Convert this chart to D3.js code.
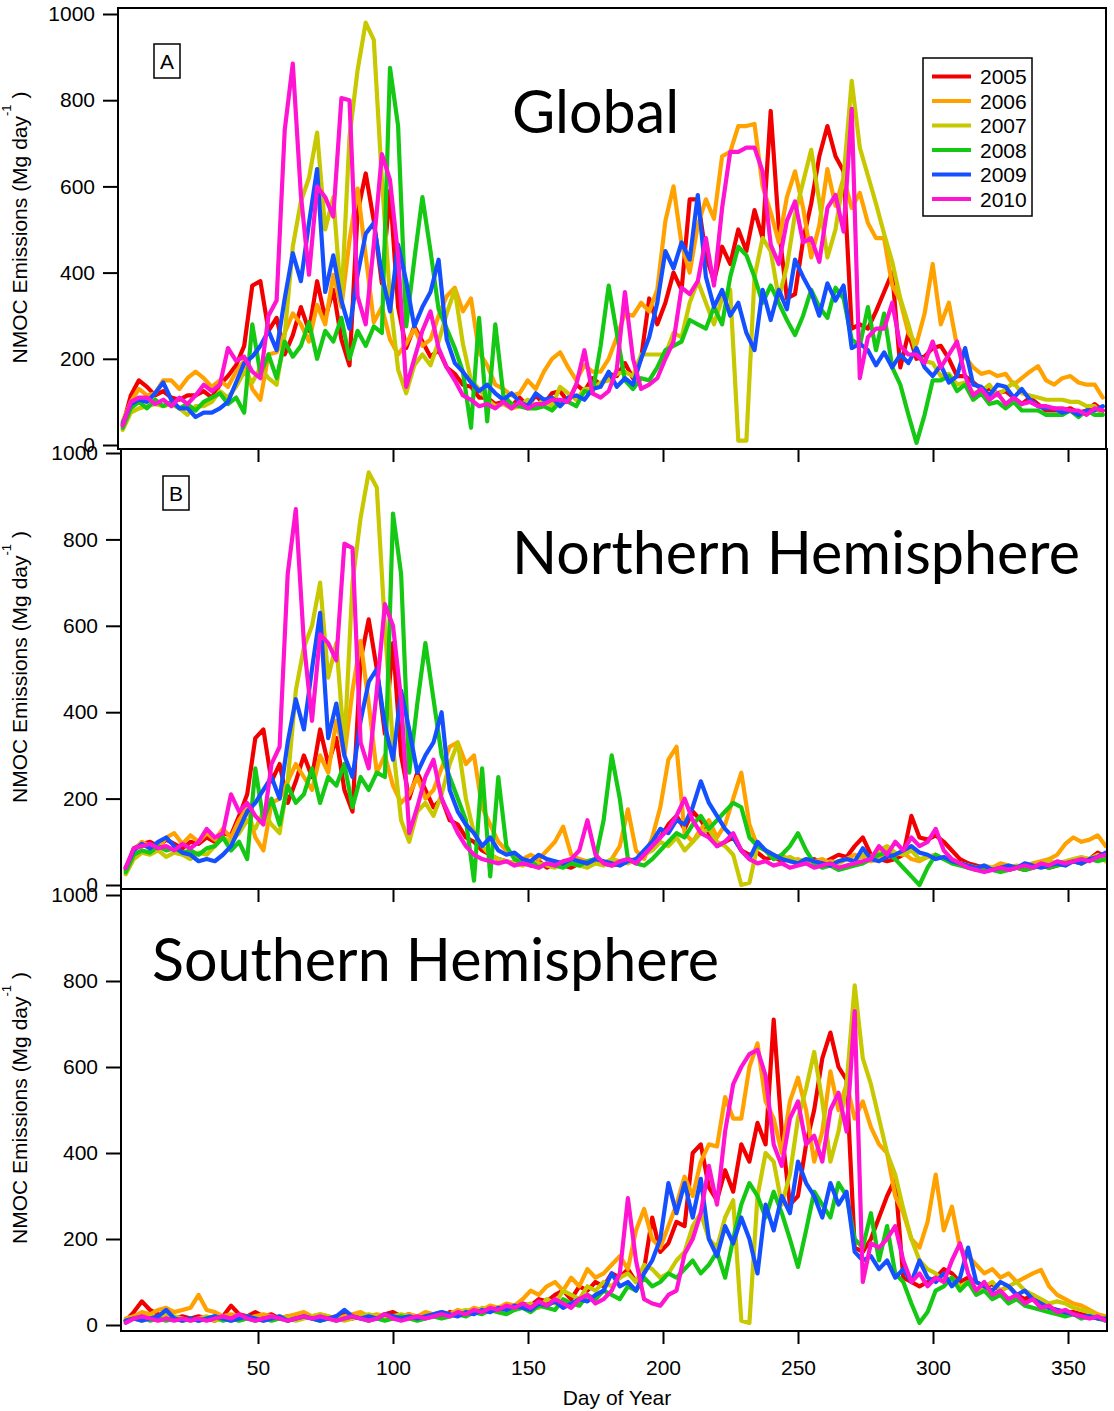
<!DOCTYPE html>
<html>
<head>
<meta charset="utf-8">
<script src="https://cdn.jsdelivr.net/npm/d3@7"></script>
<style>
  body { margin: 0; background: #fff; }
  svg { display: block; }
  text { font-family: "Liberation Sans", Arial, sans-serif; fill: #000; }
  .frame { fill: none; stroke: #000; stroke-width: 2; }
  .series { fill: none; stroke-width: 4.2; stroke-linejoin: round; stroke-linecap: round; }
  .axis line { stroke: #000; stroke-width: 2; }
  .axis path { display: none; }
  .title { font-family: Lato, "Open Sans", sans-serif; }
</style>
</head>
<body>
<div id="chart"></div>
<script>
// years and their line colours
var years = ["2005", "2006", "2007", "2008", "2009", "2010"];
var yearColors = ["#f20000", "#ffa200", "#c8c800", "#14c814", "#1450ff", "#ff14d2"];

// values are read every third day: day 1, 4, 7, ... 364
var days = d3.range(1, 366, 3);
var yTicks = [0, 200, 400, 600, 800, 1000];
var xTicks = [50, 100, 150, 200, 250, 300, 350];

// Northern Hemisphere NMOC emissions (Mg/day)
var nh2005 = [35, 85, 95, 100, 90, 105, 95, 85, 100, 95,
  110, 100, 120, 115, 160, 210, 340, 360, 240, 280,
  190, 240, 300, 250, 360, 280, 340, 220, 170, 520,
  615, 500, 350, 560, 300, 200, 260, 220, 180, 200,
  150, 140, 110, 100, 80, 70, 60, 55, 50, 60,
  45, 55, 40, 50, 45, 40, 50, 45, 55, 50,
  45, 50, 60, 55, 70, 90, 110, 140, 160, 130,
  170, 150, 120, 90, 100, 110, 80, 70, 75, 60,
  65, 55, 60, 50, 55, 60, 50, 60, 70, 65,
  90, 110, 70, 60, 55, 60, 70, 160, 110, 105,
  115, 100, 80, 60, 50, 45, 40, 35, 40, 35,
  40, 35, 40, 45, 40, 45, 50, 55, 50, 60,
  75, 65];
var nh2006 = [40, 80, 100, 90, 85, 110, 120, 95, 115, 100,
  120, 105, 130, 110, 150, 180, 110, 80, 190, 200,
  240, 280, 250, 220, 300, 260, 380, 300, 450, 565,
  420, 260, 300, 230, 190, 210, 250, 200, 220, 270,
  320, 330, 280, 300, 180, 140, 100, 80, 70, 60,
  70, 60, 80, 100, 135, 70, 60, 55, 60, 50,
  60, 90, 175, 80, 60, 110, 180, 290, 320, 120,
  100, 130, 150, 110, 140, 200, 260, 140, 90, 80,
  60, 70, 55, 60, 50, 55, 60, 50, 55, 60,
  70, 65, 55, 60, 80, 70, 75, 60, 55, 65,
  70, 60, 55, 50, 45, 40, 45, 40, 50, 45,
  40, 45, 50, 55, 60, 70, 95, 110, 100, 105,
  115, 90];
var nh2007 = [25, 60, 75, 70, 80, 65, 75, 70, 60, 75,
  70, 90, 110, 100, 120, 150, 130, 170, 140, 120,
  240, 450, 550, 600, 700, 480, 560, 320, 700, 850,
  955, 920, 600, 320, 150, 100, 170, 190, 160, 210,
  280, 330, 200, 120, 90, 70, 60, 55, 50, 45,
  55, 50, 45, 40, 55, 50, 45, 40, 50, 45,
  60, 55, 50, 60, 70, 80, 100, 90, 110, 80,
  100, 120, 130, 100, 90, 70, 0, 5, 90, 80,
  70, 60, 65, 55, 60, 50, 45, 55, 50, 60,
  55, 70, 65, 80, 90, 75, 70, 80, 60, 65,
  70, 60, 55, 50, 45, 40, 35, 40, 35, 40,
  45, 40, 45, 50, 55, 50, 55, 60, 65, 60,
  70, 55];
var nh2008 = [30, 70, 80, 75, 90, 80, 85, 75, 80, 70,
  85, 90, 110, 80, 100, 60, 270, 150, 200, 140,
  230, 190, 210, 270, 190, 250, 230, 280, 180, 250,
  220, 260, 250, 860, 720, 260, 420, 560, 430, 300,
  250, 200, 150, 10, 270, 20, 250, 90, 60, 50,
  55, 40, 50, 45, 40, 50, 45, 55, 60, 150,
  300, 200, 60, 50, 45, 60, 80, 100, 120, 110,
  140, 160, 130, 150, 170, 190, 180, 110, 90, 80,
  60, 70, 90, 120, 80, 50, 40, 45, 35, 40,
  45, 50, 60, 70, 75, 60, 40, 20, 0, 40,
  70, 60, 50, 45, 40, 35, 40, 35, 30, 35,
  40, 35, 40, 45, 40, 45, 50, 55, 50, 60,
  55, 60];
var nh2009 = [40, 80, 95, 85, 100, 110, 90, 75, 70, 55,
  60, 55, 70, 90, 130, 170, 190, 220, 250, 200,
  330, 430, 360, 500, 630, 340, 420, 300, 250, 380,
  470, 500, 370, 290, 450, 360, 260, 300, 330, 400,
  220, 170, 140, 120, 90, 110, 80, 70, 75, 60,
  55, 70, 60, 55, 50, 60, 55, 50, 60, 55,
  50, 45, 55, 60, 80, 100, 130, 120, 150, 140,
  180, 240, 190, 160, 130, 110, 80, 60, 100, 80,
  70, 60, 55, 50, 60, 55, 50, 45, 55, 60,
  55, 85, 60, 55, 65, 70, 80, 90, 75, 70,
  60, 65, 55, 50, 45, 40, 45, 35, 40, 45,
  40, 50, 45, 40, 45, 50, 45, 55, 50, 60,
  65, 75];
var nh2010 = [40, 85, 90, 95, 85, 90, 80, 95, 85, 100,
  130, 110, 120, 210, 170, 190, 160, 140, 280, 320,
  720, 870, 560, 380, 580, 560, 520, 790, 780, 330,
  270, 450, 650, 600, 430, 120, 180, 250, 290, 200,
  160, 120, 90, 70, 60, 55, 50, 55, 45, 50,
  45, 40, 50, 45, 55, 60, 80, 150, 70, 50,
  45, 55, 60, 50, 70, 90, 110, 130, 160, 200,
  150, 120, 110, 90, 100, 120, 80, 60, 50, 55,
  45, 50, 40, 45, 50, 40, 45, 50, 40, 45,
  50, 55, 60, 90, 70, 100, 80, 110, 90, 100,
  130, 80, 60, 50, 40, 35, 30, 35, 40, 35,
  40, 45, 40, 50, 45, 55, 50, 55, 60, 55,
  65, 70];

// Southern Hemisphere NMOC emissions (Mg/day)
var sh2005 = [10, 30, 55, 35, 25, 20, 15, 20, 15, 20,
  15, 10, 20, 45, 25, 20, 30, 20, 25, 15,
  20, 15, 20, 15, 20, 15, 20, 25, 15, 20,
  15, 20, 25, 30, 20, 25, 15, 20, 25, 20,
  30, 25, 30, 35, 30, 40, 35, 45, 40, 50,
  45, 60, 55, 70, 80, 60, 90, 80, 100, 90,
  120, 110, 130, 100, 130, 250, 170, 190, 240, 230,
  400, 420, 320, 290, 360, 310, 420, 380, 470, 420,
  710, 450, 280, 300, 420, 500, 620, 680, 600, 570,
  180, 170, 200, 250, 300, 340, 110, 100, 90, 100,
  110, 130, 120, 100, 110, 100, 90, 95, 80, 90,
  70, 60, 70, 50, 40, 35, 30, 30, 25, 20,
  20, 15];
var sh2006 = [15, 20, 30, 25, 35, 40, 30, 35, 40, 70,
  35, 30, 20, 25, 20, 15, 20, 25, 20, 15,
  20, 25, 30, 20, 25, 20, 15, 20, 25, 30,
  20, 25, 20, 15, 20, 25, 20, 30, 25, 30,
  25, 35, 30, 40, 35, 45, 40, 50, 45, 60,
  80, 70, 90, 100, 80, 110, 90, 130, 110, 120,
  140, 160, 130, 220, 270, 200, 180, 230, 280, 345,
  300, 380, 420, 415, 530, 480, 480, 600, 655, 520,
  480, 400, 520, 575, 500, 380, 450, 590, 500, 560,
  480, 520, 460, 420, 400, 300, 260, 200, 180, 240,
  350, 220, 275, 180, 160, 140, 120, 130, 110, 120,
  100, 110, 120, 128, 90, 70, 60, 50, 45, 35,
  25, 20];
var sh2007 = [10, 15, 10, 20, 15, 25, 20, 15, 10, 15,
  20, 10, 15, 10, 15, 20, 15, 10, 15, 20,
  15, 10, 15, 20, 25, 20, 15, 10, 15, 20,
  25, 20, 15, 20, 25, 20, 15, 20, 25, 30,
  25, 30, 35, 30, 40, 35, 30, 40, 35, 45,
  50, 40, 60, 50, 80, 70, 60, 90, 80, 100,
  90, 110, 120, 100, 140, 130, 110, 120, 150, 170,
  230, 260, 200, 180, 250, 290, 10, 5, 300, 400,
  380, 280, 350, 480, 550, 635, 520, 380, 450, 560,
  790, 620, 560, 480, 400, 350, 270, 200, 150, 130,
  120, 100, 110, 90, 100, 80, 90, 100, 80, 90,
  100, 80, 70, 60, 50, 55, 50, 40, 35, 30,
  20, 15];
var sh2008 = [10, 15, 20, 10, 15, 10, 15, 10, 15, 10,
  15, 20, 10, 15, 10, 15, 10, 15, 10, 15,
  10, 15, 20, 15, 10, 15, 10, 15, 20, 15,
  10, 15, 10, 15, 20, 15, 10, 15, 20, 15,
  20, 25, 20, 30, 25, 35, 30, 25, 35, 40,
  30, 45, 40, 35, 60, 50, 45, 70, 60, 80,
  70, 60, 90, 80, 110, 90, 100, 120, 110, 130,
  150, 120, 140, 170, 110, 200, 280, 330, 300, 250,
  310, 260, 200, 135, 220, 310, 280, 250, 330, 300,
  200, 180, 260, 150, 230, 120, 100, 50, 5, 30,
  80, 90, 110, 80, 100, 70, 80, 60, 70, 50,
  60, 45, 40, 35, 30, 25, 20, 25, 15, 20,
  15, 10];
var sh2009 = [10, 15, 10, 15, 20, 35, 15, 10, 15, 10,
  15, 20, 15, 10, 15, 20, 15, 10, 15, 20,
  10, 15, 20, 15, 10, 15, 20, 35, 20, 15,
  20, 15, 25, 20, 15, 20, 15, 20, 25, 30,
  25, 20, 30, 25, 35, 30, 40, 35, 45, 40,
  35, 50, 45, 55, 40, 50, 60, 55, 70, 80,
  120, 90, 100, 80, 120, 150, 200, 330, 260, 330,
  250, 340, 200, 160, 230, 190, 250, 200, 120, 280,
  220, 300, 260, 380, 330, 300, 250, 330, 280, 310,
  170, 150, 160, 130, 150, 110, 130, 100, 150, 110,
  100, 120, 90, 110, 180, 100, 90, 80, 100, 90,
  70, 80, 60, 50, 40, 35, 30, 25, 20, 20,
  15, 15];
var sh2010 = [5, 15, 20, 15, 10, 15, 10, 15, 10, 15,
  10, 15, 20, 15, 25, 15, 10, 15, 20, 15,
  10, 15, 20, 15, 20, 15, 10, 15, 20, 15,
  10, 15, 25, 15, 10, 15, 20, 15, 20, 25,
  20, 30, 25, 35, 30, 40, 35, 45, 40, 50,
  40, 55, 45, 60, 50, 40, 60, 70, 50, 60,
  80, 120, 295, 150, 60, 50, 45, 70, 80, 165,
  200, 260, 370, 280, 450, 560, 600, 630, 640, 580,
  420, 370, 480, 520, 420, 440, 380, 500, 540, 450,
  730, 100, 190, 180, 200, 230, 150, 100, 120, 90,
  110, 100, 150, 190, 120, 80, 100, 70, 80, 60,
  70, 50, 60, 40, 45, 30, 35, 25, 20, 15,
  20, 10];

var nhSeries = [nh2005, nh2006, nh2007, nh2008, nh2009, nh2010];
var shSeries = [sh2005, sh2006, sh2007, sh2008, sh2009, sh2010];
// global total is the sum of both hemispheres
var globalSeries = nhSeries.map(function(s, k) {
  return s.map(function(v, i) { return v + shSeries[k][i]; });
});

var width = 1114, height = 1411;
var svg = d3.select("#chart").append("svg")
  .attr("width", width)
  .attr("height", height);

var panels = [
  {id: "A", series: globalSeries, left: 118, right: 1106, top: 8, bottom: 449,
   yRange: [445, 14], xStart: 120, title: "Global", titleX: 512, titleY: 133,
   box: [154, 44], topTicks: false, xAxis: false, legend: true},
  {id: "B", series: nhSeries, left: 121, right: 1107, top: 449, bottom: 889,
   yRange: [885, 453], xStart: 123, title: "Northern Hemisphere", titleX: 512, titleY: 574,
   box: [163, 476], topTicks: true, xAxis: false, legend: false},
  {id: "C", series: shSeries, left: 121, right: 1107, top: 889, bottom: 1331,
   yRange: [1325, 895], xStart: 123, title: "Southern Hemisphere", titleX: 152, titleY: 981,
   box: null, topTicks: true, xAxis: true, legend: false}
];

// fit title font so "Northern Hemisphere" spans the same width as the original
var probe = svg.append("text").attr("class", "title").style("font-size", "60px").text("Northern Hemisphere");
var titleSize = 60 * 568 / probe.node().getComputedTextLength();
probe.remove();

var defs = svg.append("defs");

panels.forEach(function(p) {
  var x = d3.scaleLinear().domain([0, 365]).range([p.xStart, p.xStart + 365 * 2.7]);
  var y = d3.scaleLinear().domain([0, 1000]).range(p.yRange);

  defs.append("clipPath").attr("id", "clip" + p.id)
    .append("rect")
      .attr("x", p.left).attr("y", p.top)
      .attr("width", p.right - p.left).attr("height", p.bottom - p.top);

  var g = svg.append("g").attr("class", "panel");

  var line = d3.line()
    .x(function(d, i) { return x(days[i]); })
    .y(function(d) { return y(d); });

  g.append("g").attr("clip-path", "url(#clip" + p.id + ")")
    .selectAll("path").data(p.series)
    .enter().append("path")
      .attr("class", "series")
      .attr("stroke", function(d, k) { return yearColors[k]; })
      .attr("d", line);

  g.append("rect")
    .attr("class", "frame")
    .attr("x", p.left).attr("y", p.top)
    .attr("width", p.right - p.left).attr("height", p.bottom - p.top);

  // left axis
  var ya = g.append("g")
    .attr("class", "axis")
    .attr("transform", "translate(" + p.left + ",0)")
    .call(d3.axisLeft(y).tickValues(yTicks).tickFormat(d3.format("d")).tickSize(15).tickPadding(8));
  ya.selectAll("text").style("font-size", "21px").style("font-family", "'Liberation Sans', Arial, sans-serif");

  // inward ticks along the top edge
  if (p.topTicks) {
    g.append("g")
      .attr("class", "axis")
      .attr("transform", "translate(0," + p.top + ")")
      .call(d3.axisBottom(x).tickValues(xTicks).tickSize(13).tickFormat(""));
  }

  if (p.xAxis) {
    var xa = g.append("g")
      .attr("class", "axis")
      .attr("transform", "translate(0," + p.bottom + ")")
      .call(d3.axisBottom(x).tickValues(xTicks).tickFormat(d3.format("d")).tickSize(13).tickPadding(16));
    xa.selectAll("text").style("font-size", "21px").style("font-family", "'Liberation Sans', Arial, sans-serif");
    g.append("text")
      .attr("x", 617).attr("y", 1398)
      .attr("dy", "0.35em")
      .attr("text-anchor", "middle")
      .style("font-size", "21px")
      .text("Day of Year");
  }

  // y axis title with superscript
  var cy = y(500) - 2;
  var lab = g.append("text")
    .attr("transform", "translate(27," + cy + ") rotate(-90)")
    .attr("text-anchor", "middle")
    .style("font-size", "21px");
  lab.append("tspan").text("NMOC Emissions (Mg day");
  lab.append("tspan").attr("dy", -16).style("font-size", "13px").text("-1");
  lab.append("tspan").attr("dy", 16).text(" )");

  // panel letter
  if (p.box) {
    g.append("rect")
      .attr("x", p.box[0]).attr("y", p.box[1])
      .attr("width", 26).attr("height", 34)
      .attr("fill", "none").attr("stroke", "#000").attr("stroke-width", 1.5);
    g.append("text")
      .attr("x", p.box[0] + 13).attr("y", p.box[1] + 17)
      .attr("dy", "0.36em")
      .attr("text-anchor", "middle")
      .style("font-size", "21px")
      .text(p.id);
  }

  g.append("text")
    .attr("class", "title")
    .attr("x", p.titleX).attr("y", p.titleY)
    .style("font-size", titleSize + "px")
    .text(p.title);

  if (p.legend) {
    var lg = g.append("g").attr("transform", "translate(923,58)");
    lg.append("rect")
      .attr("width", 109).attr("height", 158)
      .attr("fill", "#fff").attr("stroke", "#000").attr("stroke-width", 1.5);
    var item = lg.selectAll(".item").data(years)
      .enter().append("g")
        .attr("class", "item")
        .attr("transform", function(d, k) { return "translate(0," + (18.5 + k * 24.5) + ")"; });
    item.append("line")
      .attr("x1", 9).attr("x2", 48)
      .attr("stroke", function(d, k) { return yearColors[k]; })
      .attr("stroke-width", 4);
    item.append("text")
      .attr("x", 57)
      .attr("dy", "0.36em")
      .style("font-size", "21px")
      .text(function(d) { return d; });
  }
});
</script>
</body>
</html>
